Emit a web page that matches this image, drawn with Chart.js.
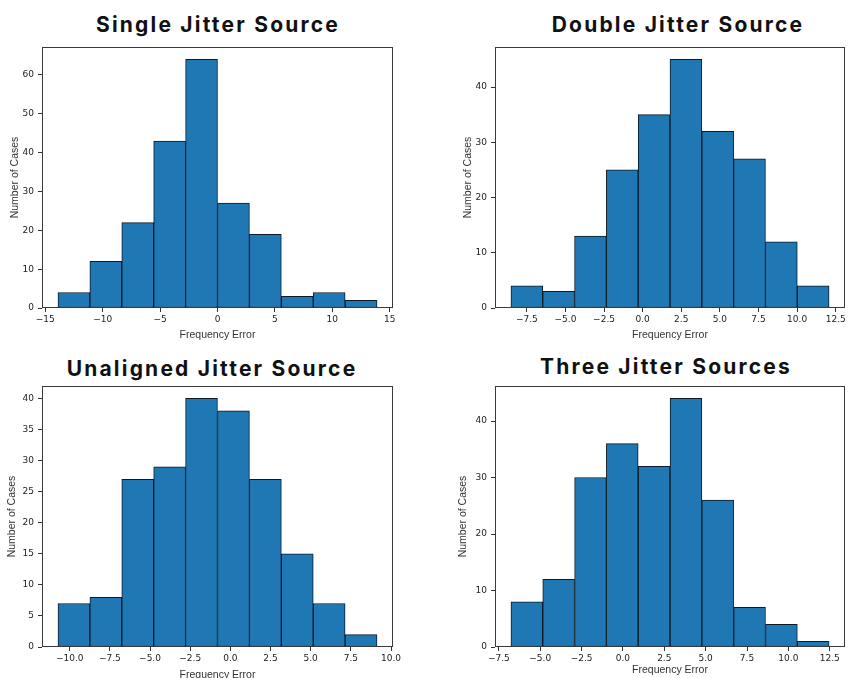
<!DOCTYPE html>
<html>
<head>
<meta charset="utf-8">
<script src="https://cdn.jsdelivr.net/npm/chart.js@4"></script>
<style>
  html, body { margin: 0; padding: 0; background: #fff; width: 848px; height: 678px; overflow: hidden; }
  .box { position: absolute; }
  .ttl { position: absolute; width: 400px; text-align: center; font-family: Inter, "Noto Sans", sans-serif; font-weight: 700; font-size: 21px; line-height: 21px; letter-spacing: 2.2px; color: #111; white-space: nowrap; }
</style>
</head>
<body>
<div class="ttl" style="left:18px; top:14px;">Single Jitter Source</div>
<div class="ttl" style="left:478px; top:14px;">Double Jitter Source</div>
<div class="ttl" style="left:12px; top:358px;">Unaligned Jitter Source</div>
<div class="ttl" style="left:466px; top:356px;">Three Jitter Sources</div>

<div class="box" id="b1"><canvas id="c1"></canvas></div>
<div class="box" id="b2"><canvas id="c2"></canvas></div>
<div class="box" id="b3"><canvas id="c3"></canvas></div>
<div class="box" id="b4"><canvas id="c4"></canvas></div>

<script>
// ---- data ----
const xLabel = 'Frequency Error';
const yLabel = 'Number of Cases';

const edges1  = [-13.9, -11.12, -8.34, -5.56, -2.78, 0, 2.78, 5.56, 8.34, 11.12, 13.9];
const counts1 = [4, 12, 22, 43, 64, 27, 19, 3, 4, 2];
const xTicks1 = [-15, -10, -5, 0, 5, 10, 15];
const xTickLabels1 = ['\u221215', '\u221210', '\u22125', '0', '5', '10', '15'];
const yTicks1 = [0, 10, 20, 30, 40, 50, 60];

const edges2  = [-8.53, -6.47, -4.41, -2.35, -0.29, 1.77, 3.83, 5.89, 7.95, 10.01, 12.07];
const counts2 = [4, 3, 13, 25, 35, 45, 32, 27, 12, 4];
const xTicks2 = [-7.5, -5, -2.5, 0, 2.5, 5, 7.5, 10, 12.5];
const xTickLabels2 = ['\u22127.5', '\u22125.0', '\u22122.5', '0.0', '2.5', '5.0', '7.5', '10.0', '12.5'];
const yTicks2 = [0, 10, 20, 30, 40];

const edges3  = [-10.73, -8.74, -6.76, -4.77, -2.79, -0.80, 1.19, 3.17, 5.16, 7.14, 9.13];
const counts3 = [7, 8, 27, 29, 40, 38, 27, 15, 7, 2];
const xTicks3 = [-10, -7.5, -5, -2.5, 0, 2.5, 5, 7.5, 10];
const xTickLabels3 = ['\u221210.0', '\u22127.5', '\u22125.0', '\u22122.5', '0.0', '2.5', '5.0', '7.5', '10.0'];
const yTicks3 = [0, 5, 10, 15, 20, 25, 30, 35, 40];

const edges4  = [-6.77, -4.85, -2.92, -1.00, 0.92, 2.85, 4.77, 6.69, 8.62, 10.54, 12.46];
const counts4 = [8, 12, 30, 36, 32, 44, 26, 7, 4, 1];
const xTicks4 = [-7.5, -5, -2.5, 0, 2.5, 5, 7.5, 10, 12.5];
const xTickLabels4 = ['\u22127.5', '\u22125.0', '\u22122.5', '0.0', '2.5', '5.0', '7.5', '10.0', '12.5'];
const yTicks4 = [0, 10, 20, 30, 40];

// ---- layout (plot area in page pixels) ----
const panels = [
  { id: 1, edges: edges1, counts: counts1, xt: xTicks1, xl: xTickLabels1, yt: yTicks1,
    area: { L: 42, T: 47, R: 393, B: 308 }, yTitleX: 15, xTitleY: 335, canvasRight: 420 },
  { id: 2, edges: edges2, counts: counts2, xt: xTicks2, xl: xTickLabels2, yt: yTicks2,
    area: { L: 495, T: 47, R: 845, B: 308 }, yTitleX: 468, xTitleY: 335, canvasRight: 848 },
  { id: 3, edges: edges3, counts: counts3, xt: xTicks3, xl: xTickLabels3, yt: yTicks3,
    area: { L: 42, T: 386, R: 393, B: 647 }, yTitleX: 12.5, xTitleY: 675, canvasRight: 420 },
  { id: 4, edges: edges4, counts: counts4, xt: xTicks4, xl: xTickLabels4, yt: yTicks4,
    area: { L: 495, T: 386, R: 845, B: 647 }, yTitleX: 463, xTitleY: 670, canvasRight: 848 },
];

const TICK_FONT = { family: '"DejaVu Sans", sans-serif', size: 9 };
const TITLE_FONT = { family: '"Liberation Sans", Arial, sans-serif', size: 10.5, lineHeight: 1.2 };
const LH = 10.5 * 1.2;

const framePlugin = {
  id: 'frame',
  afterDatasetsDraw(chart) {
    const a = chart.chartArea, ctx = chart.ctx;
    ctx.save();
    ctx.strokeStyle = '#3a3a3a';
    ctx.lineWidth = 1;
    ctx.strokeRect(Math.round(a.left) + 0.5, Math.round(a.top) + 0.5,
                   Math.round(a.right - a.left) - 1, Math.round(a.bottom - a.top) - 1);
    ctx.restore();
  }
};

panels.forEach(p => {
  const a = p.area;
  const cl = Math.round(p.yTitleX - LH / 2);
  const ct = a.T - 8;
  const cw = p.canvasRight - cl;
  const ch = Math.round(p.xTitleY + LH / 2) - ct;
  const box = document.getElementById('b' + p.id);
  Object.assign(box.style, { left: cl + 'px', top: ct + 'px', width: cw + 'px', height: ch + 'px' });

  const e0 = p.edges[0], eN = p.edges[p.edges.length - 1];
  const span = eN - e0;
  const ymax = Math.max(...p.counts) * 1.05;
  const pts = p.counts.map((c, i) => ({ x: (p.edges[i] + p.edges[i + 1]) / 2, y: c }));

  new Chart(document.getElementById('c' + p.id), {
    type: 'bar',
    data: {
      datasets: [{
        data: pts,
        backgroundColor: '#1f77b4',
        borderColor: '#0b1a26',
        borderWidth: 1,
        borderSkipped: false,
        barPercentage: 1,
        categoryPercentage: 1,
      }]
    },
    options: {
      responsive: true,
      maintainAspectRatio: false,
      animation: false,
      events: [],
      layout: { padding: { left: 0, top: a.T - ct, right: cl + cw - a.R, bottom: 0 } },
      plugins: { legend: { display: false }, tooltip: { enabled: false }, title: { display: false } },
      scales: {
        x: {
          type: 'linear',
          offset: false,
          min: e0 - 0.05 * span,
          max: eN + 0.05 * span,
          grid: { display: true, drawOnChartArea: false, drawTicks: true, tickLength: 4, tickColor: '#333', offset: false },
          border: { display: false },
          afterBuildTicks: s => { s.ticks = p.xt.map(v => ({ value: v })); },
          ticks: { autoSkip: false, maxRotation: 0, minRotation: 0, padding: 2, color: '#222', font: TICK_FONT,
                   callback: (v, i) => p.xl[i] },
          title: { display: true, text: xLabel, color: '#333', font: TITLE_FONT, padding: 0 },
          afterFit: s => { s.height = (ct + ch) - a.B; s.paddingLeft = 0; s.paddingRight = 0; }
        },
        y: {
          type: 'linear',
          min: 0,
          max: ymax,
          grid: { display: true, drawOnChartArea: false, drawTicks: true, tickLength: 4, tickColor: '#333' },
          border: { display: false },
          afterBuildTicks: s => { s.ticks = p.yt.map(v => ({ value: v })); },
          ticks: { autoSkip: false, padding: 4, color: '#222', font: TICK_FONT, callback: v => String(v) },
          title: { display: true, text: yLabel, color: '#333', font: TITLE_FONT, padding: 0 },
          afterFit: s => { s.width = a.L - cl; s.paddingTop = 0; s.paddingBottom = 0; }
        }
      }
    },
    plugins: [framePlugin]
  });
});
</script>
</body>
</html>
